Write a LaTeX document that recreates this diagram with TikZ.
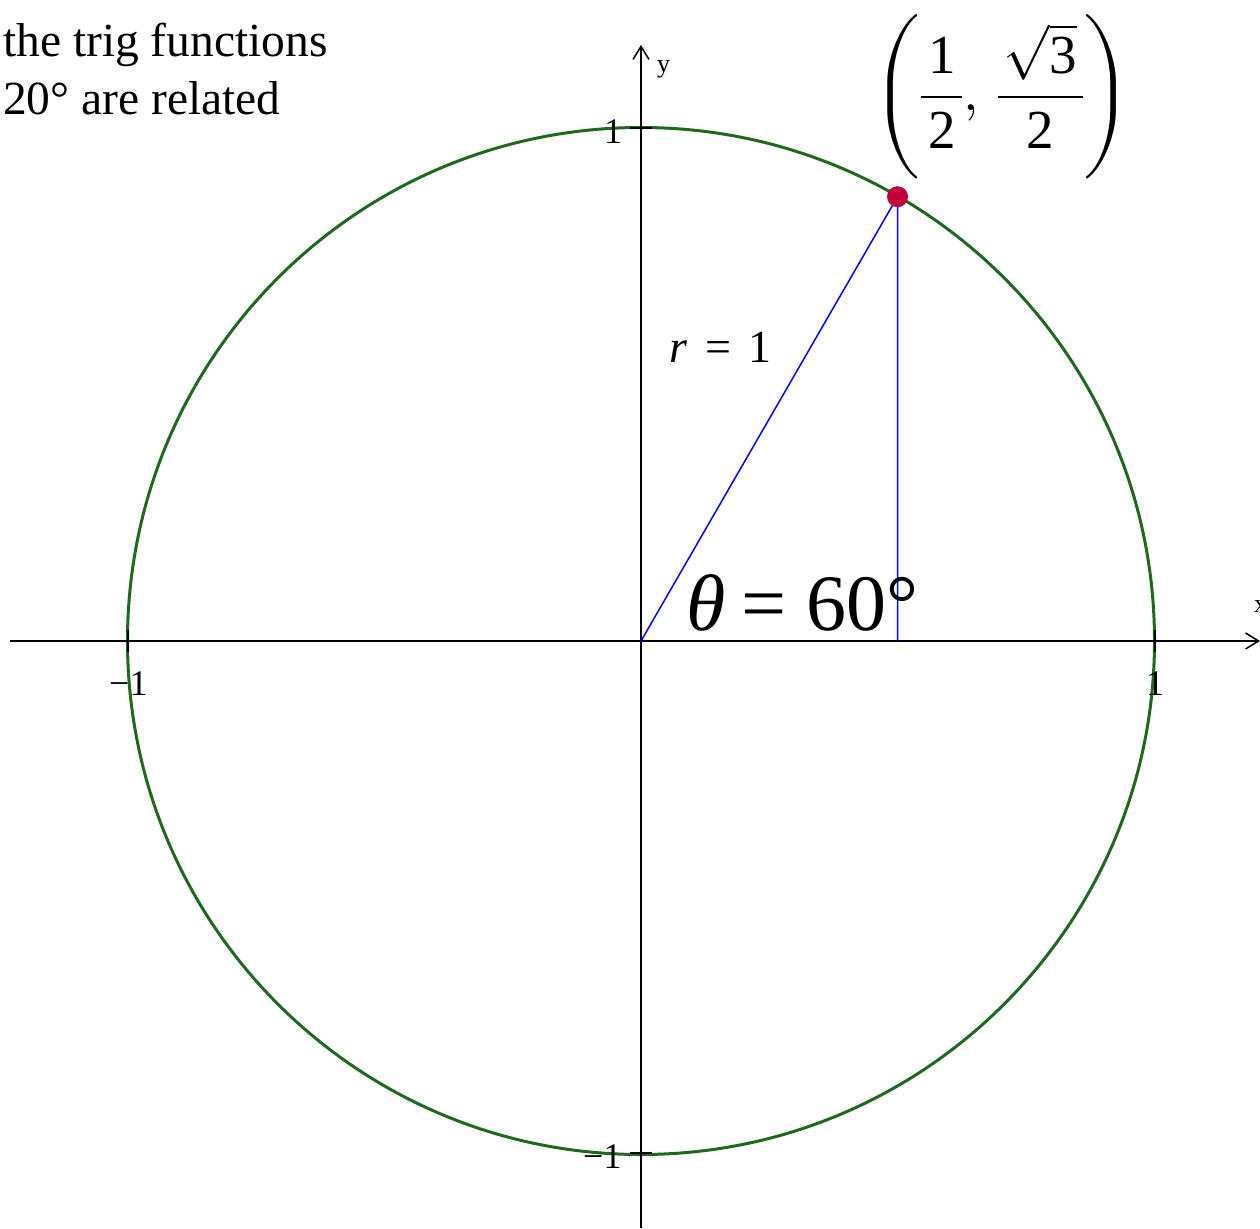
\documentclass[tikz,border=0pt]{standalone}
\usepackage{fontspec}
\usepackage{unicode-math}
\setmainfont{Liberation Serif}
\setmathfont{Latin Modern Math}
\usetikzlibrary{arrows.meta}
\definecolor{ringgreen}{RGB}{30,105,30}
\definecolor{dotred}{RGB}{196,0,60}
\begin{document}
\begin{tikzpicture}[x=1pt,y=-1pt,
  axisline/.style={line width=1.6pt,-{Straight Barb[length=13pt,width=16pt,line width=1.5pt]}},
  tickline/.style={line width=2pt},
  ring/.style={draw=ringgreen,line width=3pt},
  blueline/.style={draw=blue,line width=1.5pt},
  ticklbl/.style={inner sep=0pt,anchor=base west,font=\fontsize{36}{40}\selectfont},
  axlbl/.style={inner sep=0pt,anchor=base west,font=\fontsize{26}{30}\selectfont},
  bigtxt/.style={inner sep=0pt,anchor=base west,font=\fontsize{47.5}{57}\selectfont},
]
\useasboundingbox (0,0) rectangle (1260,1228);
% coordinates
\coordinate (O) at (641,641);
\coordinate (P) at (897.5,196.7);
\coordinate (Q) at (897.5,641);
\coordinate (xs) at (10,641);
\coordinate (xe) at (1260,641);
\coordinate (ys) at (641,1228);
\coordinate (ye) at (641,45);
% circle
\draw[ring] (O) circle (513.5);
% axes
\draw[axisline] (xs) -- (xe);
\draw[axisline] (ys) -- (ye);
% ticks
\coordinate (tx1a) at (1155,630); \coordinate (tx1b) at (1155,652);
\coordinate (tx2a) at (128,630); \coordinate (tx2b) at (128,652);
\coordinate (ty1a) at (630,128); \coordinate (ty1b) at (652,128);
\coordinate (ty2a) at (630,1153); \coordinate (ty2b) at (652,1153);
\draw[tickline] (tx1a) -- (tx1b);
\draw[tickline] (tx2a) -- (tx2b);
\draw[tickline] (ty1a) -- (ty1b);
\draw[tickline] (ty2a) -- (ty2b);
% tick labels
\node[ticklbl] (l1) at (604,143) {1};
\node[ticklbl] (l2) at (583,1168) {−1};
\node[ticklbl] (l3) at (109,695) {−1};
\node[ticklbl] (l4) at (1146,695) {1};
\node[axlbl] (ly) at (657,73) {y};
\node[axlbl] (lx) at (1254,612) {x};
% triangle
\draw[blueline] (O) -- (P) -- (Q);
\node[circle,fill=dotred,inner sep=0pt,minimum size=21pt] (dot) at (P) {};
% texts
\node[bigtxt] (t1) at (3,57) {the trig functions};
\node[bigtxt] (t2) at (3,114) {20° are related};
\node[inner sep=0pt,anchor=base west,font=\fontsize{46}{50}\selectfont] (r) at (669,362) {\itshape r\upshape\hspace{0.4em}=\hspace{0.38em}1};
\node[inner sep=0pt,anchor=base west,font=\fontsize{80}{90}\selectfont] (th) at (686,630) {\itshape θ\upshape\hspace{0.2em}=\hspace{0.25em}60°};
\node[inner sep=0pt,font=\fontsize{55}{66}\selectfont] (pt) at (1002,97)
  {$\delimitershortfall=30pt\displaystyle\left(\frac{\mbox{\hspace{0.12em}1\hspace{0.12em}}}{\mbox{2}},\,\frac{\mbox{\hspace{0.1em}}\sqrt{\mbox{3}}\mbox{\hspace{0.1em}}}{\mbox{2}}\right)$};
\end{tikzpicture}
\end{document}
